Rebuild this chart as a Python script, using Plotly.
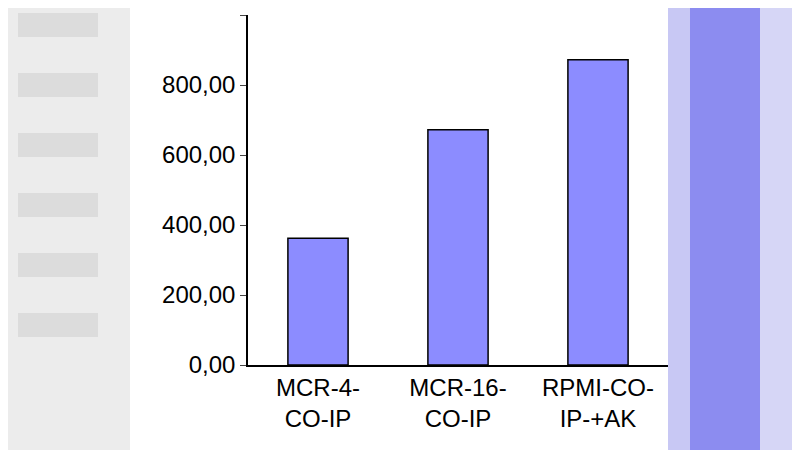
import plotly.graph_objects as go

categories = ["MCR-4-<br>CO-IP", "MCR-16-<br>CO-IP", "RPMI-CO-<br>IP-+AK"]
values = [362, 672, 872]
tick_vals = [0, 200, 400, 600, 800, 1000]
tick_text = ["0,00", "200,00", "400,00", "600,00", "800,00", "1000,00"]

fig = go.Figure(go.Bar(x=categories, y=values, width=0.43,
                       marker=dict(color="#8c8cff", line=dict(color="black", width=1.5))))

shapes = [
    dict(type="rect", xref="paper", yref="paper", x0=-260/420, x1=-118/420, y0=-110/350, y1=1+30/350,
         fillcolor="#ececec", line_width=0, layer="below"),
    dict(type="rect", xref="paper", yref="paper", x0=1, x1=1+22/420, y0=-110/350, y1=1+30/350,
         fillcolor="#c8c8f4", line_width=0, layer="below"),
    dict(type="rect", xref="paper", yref="paper", x0=1+22/420, x1=1+92/420, y0=-110/350, y1=1+30/350,
         fillcolor="#8c8cf0", line_width=0, layer="below"),
    dict(type="rect", xref="paper", yref="paper", x0=1+92/420, x1=1+150/420, y0=-110/350, y1=1+30/350,
         fillcolor="#d6d6f6", line_width=0, layer="below"),
]
for i in range(6):
    y = 1 - (i * 60 + 10) / 350
    shapes.append(dict(type="rect", xref="paper", yref="paper", x0=-230/420, x1=-150/420,
                       y0=y - 12/350, y1=y + 12/350, fillcolor="#dcdcdc", line_width=0, layer="below"))

fig.update_layout(
    width=800, height=450, margin=dict(l=240, r=140, t=7, b=93),
    paper_bgcolor="white", plot_bgcolor="white", showlegend=False,
    font=dict(family="Liberation Sans, Arial", size=24, color="black"),
    bargap=0.57, shapes=shapes,
    xaxis=dict(showline=True, linecolor="black", linewidth=1.5, ticks="", showgrid=False),
    yaxis=dict(range=[0, 1000], tickvals=tick_vals, ticktext=tick_text, showline=True,
               linecolor="black", linewidth=1.5, ticks="outside", ticklen=6, showgrid=False,
               zeroline=False),
)
fig.write_html("out.html")
